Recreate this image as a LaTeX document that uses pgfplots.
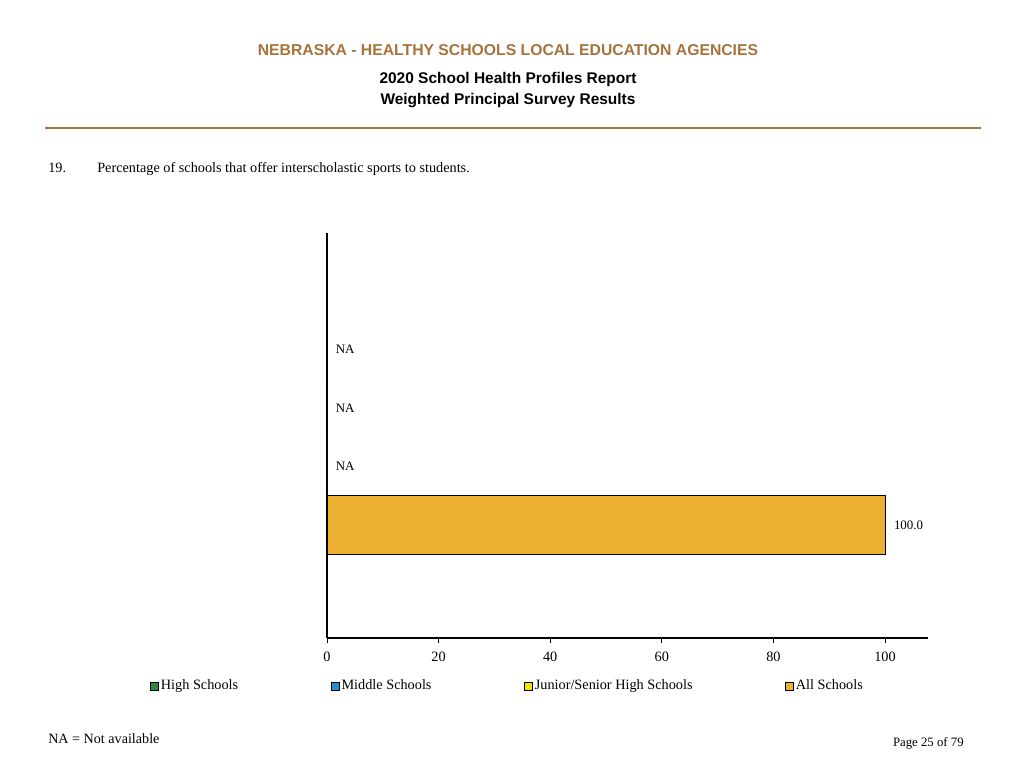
\documentclass[border=0pt]{standalone}
\usepackage{pgfplots}
\pgfplotsset{compat=1.18}
\usepackage{fontspec}
\setmainfont{Liberation Serif}
\newfontfamily\headfont{Liberation Sans}

\definecolor{hdbrown}{HTML}{A8723C}
\definecolor{hsgreen}{HTML}{2E8B3E}
\definecolor{msblue}{HTML}{1E90D0}
\definecolor{jsyellow}{HTML}{F0E800}
\definecolor{allorange}{HTML}{EEB030}

\begin{document}
\begin{tikzpicture}
% page frame in pixel units (1px = 0.75pt, y downwards)
\begin{scope}[x=0.75pt,y=-0.75pt]
  \path[use as bounding box,fill=white] (0,0) rectangle (1024,768);
  \node[font=\headfont\bfseries\fontsize{11.8}{13}\selectfont,text=hdbrown] at (508,50) {NEBRASKA - HEALTHY SCHOOLS LOCAL EDUCATION AGENCIES};
  \node[font=\headfont\bfseries\fontsize{11.6}{13}\selectfont] at (508,79) {2020 School Health Profiles Report};
  \node[font=\headfont\bfseries\fontsize{11.6}{13}\selectfont] at (508,101) {Weighted Principal Survey Results};
  \draw[hdbrown,line width=1.5pt] (45,128) -- (981,128);
  \node[font=\fontsize{10.7}{12}\selectfont,anchor=base west,inner sep=0pt] at (48,172) {19.};
  \node[font=\fontsize{10.7}{12}\selectfont,anchor=base west,inner sep=0pt] at (97,172) {Percentage of schools that offer interscholastic sports to students.};
  \node[font=\fontsize{10.6}{12}\selectfont,anchor=base west,inner sep=0pt] at (48,743) {NA = Not available};
  \node[font=\fontsize{9.6}{11}\selectfont,anchor=base east,inner sep=0pt] at (964,746) {Page 25 of 79};
\end{scope}

\begin{axis}[
    at={({327*0.75pt},{-638*0.75pt})},
    anchor=south west,
    scale only axis,
    width=450.75pt,
    height=303.75pt,
    xbar,
    bar width=1,
    bar shift=0pt,
    xmin=0, xmax=107.7,
    ymin=-0.93, ymax=5.99,
    axis x line*=bottom,
    axis y line*=left,
    axis line style={line width=0.8pt},
    xtick={0,20,40,60,80,100},
    ytick=\empty,
    tick align=outside,
    major tick length=4pt,
    tick style={black,line width=0.6pt},
    x tick label style={font=\fontsize{10.7}{12}\selectfont},
    /pgf/number format/assume math mode=true,
    xticklabel style={yshift=-3pt},
    nodes near coords,
    point meta=explicit symbolic,
    every node near coord/.append style={font=\fontsize{9.7}{11}\selectfont,anchor=west,xshift=3pt},
    legend columns=4,
    legend style={at={(-0.2945,-0.1185)},anchor=west,draw=none,inner sep=0pt,
      font=\fontsize{10.7}{12}\selectfont,
      nodes={inner sep=1pt},
      /tikz/every even column/.append style={column sep=68.5pt},
      /tikz/every odd column/.append style={column sep=0.5pt}},
    legend image code/.code={\draw[#1,draw=black,line width=0.5pt] (0pt,-3pt) rectangle (6pt,3pt);},
  ]
  \addplot[fill=hsgreen,draw=black,line width=0.6pt] coordinates {(0,4) [NA]};
  \addlegendentry{High Schools}
  \addplot[fill=msblue,draw=black,line width=0.6pt] coordinates {(0,3) [NA]};
  \addlegendentry{Middle Schools}
  \addplot[fill=jsyellow,draw=black,line width=0.6pt] coordinates {(0,2) [NA]};
  \addlegendentry{Junior/Senior High Schools}
  \addplot[fill=allorange,draw=black,line width=0.8pt] coordinates {(100,1) [100.0]};
  \addlegendentry{All Schools}
\end{axis}
\end{tikzpicture}
\end{document}
